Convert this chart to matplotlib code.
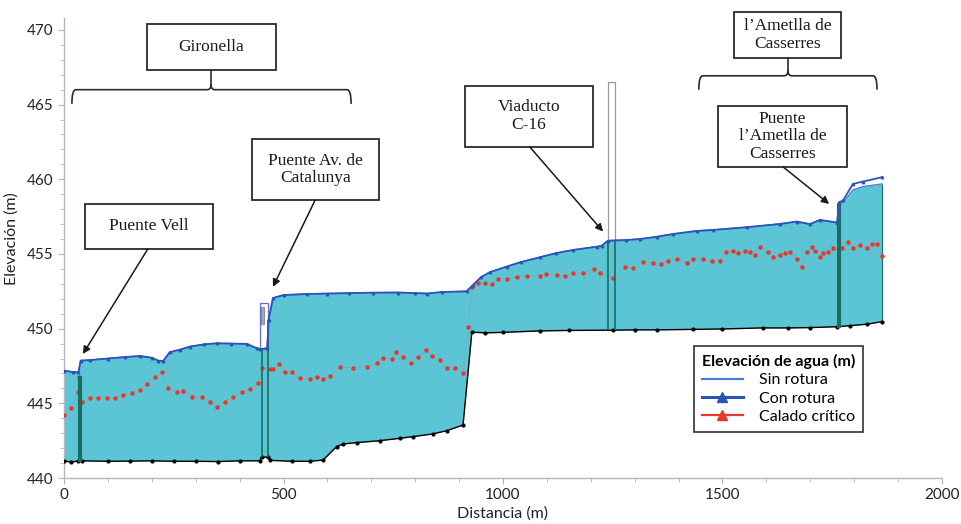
import matplotlib
matplotlib.use("Agg")
import matplotlib.pyplot as plt
from matplotlib.patches import Rectangle, PathPatch
from matplotlib.path import Path
from matplotlib.lines import Line2D
import numpy as np

plt.rcParams['font.family'] = ['Lato', 'DejaVu Sans']

# ---------------- data ----------------
ground_d = [0, 16, 33, 40, 100, 150, 200, 250, 300, 350, 400, 446, 450, 465, 470, 520, 560, 590,
            621, 636, 667, 720, 765, 795, 840, 872, 909, 929, 960, 1000, 1084, 1150, 1251, 1300,
            1350, 1433, 1500, 1592, 1650, 1700, 1761, 1790, 1830, 1863]
ground_z = [441.15, 441.06, 441.15, 441.15, 441.12, 441.13, 441.15, 441.12, 441.12, 441.1, 441.15,
            441.15, 441.4, 441.4, 441.18, 441.12, 441.12, 441.2, 442.1, 442.28, 442.37, 442.5,
            442.66, 442.77, 442.95, 443.17, 443.55, 449.76, 449.72, 449.75, 449.85, 449.88, 449.9,
            449.92, 449.92, 449.95, 449.98, 450.05, 450.05, 450.07, 450.13, 450.2, 450.3, 450.47]

ws_d = [0, 20, 33, 38, 60, 100, 140, 173, 200, 215, 226, 241, 265, 287, 320, 348, 380, 416, 439,
        447, 463, 466, 476, 500, 553, 600, 650, 704, 760, 800, 827, 860, 917, 932, 950, 970, 1008,
        1040, 1084, 1120, 1160, 1214, 1225, 1239, 1280, 1312, 1350, 1388, 1441, 1479, 1555, 1631,
        1669, 1699, 1722, 1761, 1766, 1775, 1797, 1820, 1863]
sin_rotura_z = [447.19, 447.1, 447.08, 447.86, 447.9, 448.0, 448.1, 448.17, 448.05, 447.85, 447.84,
                448.42, 448.6, 448.8, 448.95, 449.02, 449.0, 448.98, 448.69, 448.62, 448.7, 450.6,
                452.05, 452.25, 452.32, 452.35, 452.38, 452.41, 452.42, 452.38, 452.35, 452.45,
                452.5, 452.93, 453.45, 453.78, 454.15, 454.45, 454.78, 455.05, 455.27, 455.49,
                455.55, 455.89, 455.93, 456.0, 456.15, 456.34, 456.54, 456.61, 456.79, 457.01,
                457.17, 457.0, 457.28, 457.1, 458.4, 458.44, 459.29, 459.51, 459.69]
# "Con rotura" coincides with "Sin rotura" except downstream of the last bridge
con_rotura_z = sin_rotura_z[:-5] + [458.45, 458.6, 459.69, 459.85, 460.14]

crit_d = [0, 16, 32, 35, 41, 59, 77, 97, 116, 135, 154, 173, 188, 207, 224, 237, 257, 271, 291, 314,
          333, 348, 367, 385, 405, 424, 442, 451, 469, 476, 490, 503, 519, 538, 560, 576, 590, 606,
          629, 658, 690, 713, 727, 747, 756, 772, 790, 806, 825, 838, 856, 872, 891, 909, 921, 929,
          944, 959, 974, 989, 1008, 1031, 1054, 1084, 1099, 1122, 1141, 1160, 1183, 1207, 1221,
          1251, 1278, 1296, 1319, 1342, 1361, 1376, 1396, 1418, 1433, 1456, 1475, 1494, 1507, 1524,
          1535, 1551, 1562, 1574, 1585, 1604, 1615, 1631, 1642, 1654, 1669, 1681, 1692, 1704, 1711,
          1721, 1730, 1741, 1752, 1772, 1786, 1797, 1813, 1829, 1840, 1852, 1863]
crit_z = [444.22, 444.67, 445.78, 446.79, 445.11, 445.34, 445.38, 445.34, 445.38, 445.56, 445.71,
          445.89, 446.27, 446.79, 447.08, 446.0, 445.78, 445.85, 445.45, 445.4, 445.11, 444.73,
          445.11, 445.45, 445.78, 445.96, 446.38, 447.35, 447.28, 447.28, 447.61, 447.12, 447.12,
          446.68, 446.61, 446.79, 446.63, 446.83, 447.41, 447.39, 447.46, 447.72, 448.02, 447.97,
          448.42, 448.12, 447.68, 448.12, 448.57, 448.17, 447.9, 447.39, 447.35, 447.05, 450.1,
          452.82, 453.09, 453.04, 452.99, 453.31, 453.31, 453.48, 453.53, 453.53, 453.66, 453.6,
          453.53, 453.71, 453.75, 453.98, 453.71, 453.42, 454.15, 454.04, 454.49, 454.38, 454.31,
          454.55, 454.67, 454.42, 454.68, 454.65, 454.55, 454.55, 455.15, 455.22, 455.05, 455.22,
          455.15, 454.94, 455.49, 455.15, 454.83, 454.94, 455.05, 455.15, 454.65, 454.11, 455.15,
          455.45, 455.22, 454.78, 455.09, 455.15, 455.38, 455.38, 455.81, 455.43, 455.58, 455.38,
          455.65, 455.65, 454.87]

x_ticks = [0, 500, 1000, 1500, 2000]
y_ticks = [440, 445, 450, 455, 460, 465, 470]

# bridges: (start, end, top elevation)
pier_bridges = [(32, 39, 446.8), (1761, 1768, 458.4)]
catalunya_bridge = (447, 465, 448.62, 451.7)
catalunya_deck = (449, 456, 450.3, 451.45)
viaducto_bridge = (1239, 1255, 455.9, 466.5)

# ---------------- figure ----------------
fig = plt.figure(figsize=(9.62, 5.24), dpi=100)
ax = fig.add_axes([64 / 962, 1 - 478 / 524, 878 / 962, 460 / 524])

FILL = '#5bc5d5'
PIER = '#1b6e62'

all_d = np.array(sorted(set(ground_d) | set(ws_d)))
ax.fill_between(all_d, np.interp(all_d, ground_d, ground_z), np.interp(all_d, ws_d, sin_rotura_z),
                color=FILL, lw=0, zorder=1)
ax.vlines([ground_d[-1]], ground_z[-1], sin_rotura_z[-1], color=PIER, lw=0.8, zorder=2)

# critical depth
ax.plot(crit_d, crit_z, color='#7fa596', lw=0.6, ls=(0, (2, 1.5)), zorder=3)
ax.plot(crit_d, crit_z, ls='none', marker='o', ms=2.2, color='#e8372b', mec='#e8372b', zorder=3)

# ground
ax.plot(ground_d, ground_z, color='black', lw=1.0, marker='o', ms=2.0, zorder=4)

# bridges
for (a, b, top) in pier_bridges:
    g = np.interp((a + b) / 2, ground_d, ground_z)
    ax.add_patch(Rectangle((a, g), b - a, top - g, facecolor=PIER, edgecolor=PIER, lw=0.8, zorder=5))
a, b, lo, hi = catalunya_bridge
ax.add_patch(Rectangle((a, lo), b - a, hi - lo, facecolor='white', edgecolor='#5b6fd6', lw=0.9, zorder=5))
a2, b2, lo2, hi2 = catalunya_deck
ax.add_patch(Rectangle((a2, lo2), b2 - a2, hi2 - lo2, facecolor='#a8a8a8', edgecolor='#808080', lw=0.6, zorder=6))
for xx, top in [(a + 3, lo), (b, 450.6)]:
    ax.vlines(xx, np.interp(xx, ground_d, ground_z), top, color=PIER, lw=1.2, zorder=6)
a, b, lo, hi = viaducto_bridge
ax.add_patch(Rectangle((a, lo), b - a, hi - lo, facecolor='white', edgecolor='#9a9a9a', lw=0.9, zorder=5))
for xx in (a, b):
    ax.vlines(xx, np.interp(xx, ground_d, ground_z), lo, color=PIER, lw=1.2, zorder=6)

# water surfaces
ax.plot(ws_d, sin_rotura_z, color='#4a7be0', lw=1.0, zorder=7)
ax.plot(ws_d, con_rotura_z, color='#2a55b8', lw=1.3, marker='^', ms=1.8, zorder=8)

# axes styling
ax.set_xlim(0, 2000)
ax.set_ylim(440, 470.8)
ax.set_xticks(x_ticks)
ax.set_yticks(y_ticks)
ax.set_xticks(np.arange(0, 2001, 100), minor=True)
ax.set_yticks(np.arange(440, 471, 1), minor=True)
for s in ('top', 'right'):
    ax.spines[s].set_visible(False)
for s in ('left', 'bottom'):
    ax.spines[s].set_color('#aeb6c4')
    ax.spines[s].set_linewidth(1.0)
ax.tick_params(axis='both', which='both', color='#aeb6c4', labelsize=11, labelcolor='#222222')
ax.tick_params(axis='both', which='major', length=4)
ax.tick_params(axis='both', which='minor', length=3)
ax.set_xlabel('Distancia (m)', fontsize=11.5, color='#222222', labelpad=3)
ax.set_ylabel('Elevación (m)', fontsize=11.5, color='#222222', labelpad=3)
ax.yaxis.set_label_coords(-0.052, 0.52)

# ---------------- annotations ----------------
SERIF = ['Liberation Serif', 'DejaVu Serif']


def box(x0, x1, y0, y1, text):
    ax.add_patch(Rectangle((x0, y0), x1 - x0, y1 - y0, facecolor='white', edgecolor='#2b2b2b',
                           lw=1.3, zorder=10, clip_on=False))
    ax.text((x0 + x1) / 2, (y0 + y1) / 2, text, ha='center', va='center', fontsize=12.5,
            family=SERIF, color='#1a1a1a', zorder=11, linespacing=1.15, clip_on=False)


def brace(x0, x1, yb, yt, xc, ybox):
    dx, h = 9, 0.35
    verts = [(x0, yb), (x0, yt), (x0 + dx, yt),
             (xc - dx, yt), (xc, yt), (xc, yt + h),
             (xc, yt), (xc + dx, yt),
             (x1 - dx, yt), (x1, yt), (x1, yb)]
    codes = [Path.MOVETO, Path.CURVE3, Path.CURVE3,
             Path.LINETO, Path.CURVE3, Path.CURVE3,
             Path.CURVE3, Path.CURVE3,
             Path.LINETO, Path.CURVE3, Path.CURVE3]
    ax.add_patch(PathPatch(Path(verts, codes), facecolor='none', edgecolor='#2b2b2b', lw=1.2,
                           zorder=10, clip_on=False))
    ax.plot([xc, xc], [yt + h, ybox], color='#2b2b2b', lw=1.2, zorder=10, clip_on=False)


def arrow(x0, y0, x1, y1):
    ax.annotate('', xy=(x1, y1), xytext=(x0, y0),
                arrowprops=dict(arrowstyle='-|>', color='#1a1a1a', lw=1.1, mutation_scale=11,
                                shrinkA=0, shrinkB=0), zorder=10)


box(189, 483, 467.33, 470.4, 'Gironella')
brace(18, 654, 465.05, 466.0, 335, 467.33)

box(48, 339, 455.34, 458.35, 'Puente Vell')
arrow(191, 455.34, 43, 448.3)

box(428, 718, 458.6, 462.7, 'Puente Av. de\nCatalunya')
arrow(572, 458.6, 476, 452.8)

box(913, 1205, 462.17, 466.26, 'Viaducto\nC-16')
arrow(1061, 462.17, 1228, 456.5)

box(1526, 1770, 468.13, 471.2, 'l\u2019Ametlla de\nCasserres')
brace(1446, 1852, 466.0, 466.93, 1649, 468.13)

box(1490, 1784, 460.83, 464.92, 'Puente\nl\u2019Ametlla de\nCasserres')
arrow(1638, 460.83, 1743, 458.35)

# legend
handles = [Line2D([], [], color='#4a7be0', lw=1.6),
           Line2D([], [], color='#2a55b8', lw=2.2, marker='^', ms=7),
           Line2D([], [], color='#e8372b', lw=1.6, marker='^', ms=7)]
leg = ax.legend(handles, ['Sin rotura', 'Con rotura', 'Calado crítico'],
                title='Elevación de agua (m)', loc='upper left', bbox_to_anchor=(0.708, 0.304),
                fontsize=11.5, title_fontsize=11.5, frameon=True, fancybox=False,
                edgecolor='#333333', framealpha=1, borderpad=0.5, handlelength=2.6,
                labelspacing=0.25, handletextpad=1.0)
leg.get_title().set_fontweight('bold')
leg.get_frame().set_linewidth(1.2)
leg.set_zorder(12)

fig.savefig('out.png', dpi=100)
